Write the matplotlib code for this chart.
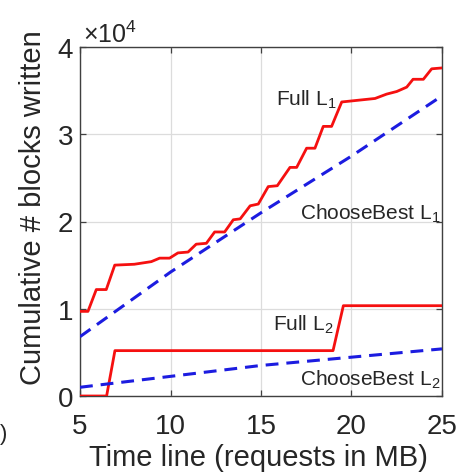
import matplotlib
matplotlib.use("Agg")
import matplotlib.pyplot as plt
from matplotlib.ticker import FuncFormatter

plt.rcParams['font.family'] = ['Liberation Sans', 'DejaVu Sans']
plt.rcParams['mathtext.fontset'] = 'custom'
plt.rcParams['mathtext.rm'] = 'Liberation Sans'
plt.rcParams['mathtext.it'] = 'Liberation Sans'

# Data (blocks written, time in MB)
full_l1_x = [5.0, 5.44, 5.9, 6.45, 6.92, 8.0, 8.94, 9.4, 9.95, 10.41, 10.97, 11.42,
             11.98, 12.44, 12.99, 13.47, 13.85, 14.4, 14.85, 15.4, 15.9, 16.6, 16.97,
             17.52, 17.98, 18.44, 18.9, 19.46, 19.92, 20.84, 21.3, 21.94, 22.5, 23.05,
             23.4, 23.97, 24.43, 25.0]
full_l1_y = [9700, 9700, 12200, 12200, 15000, 15100, 15400, 15800, 15800, 16400, 16500,
             17400, 17500, 18800, 18800, 20200, 20300, 21800, 22000, 24000, 24100, 26200,
             26200, 28400, 28400, 30900, 30900, 33700, 33800, 34000, 34100, 34600, 34900,
             35400, 36300, 36300, 37500, 37600]

cb_l1_x = [5, 10, 15, 20, 25]
cb_l1_y = [6800, 14200, 21000, 27500, 34400]

full_l2_x = [5.0, 6.47, 6.93, 18.98, 19.55, 25.0]
full_l2_y = [0, 0, 5200, 5200, 10350, 10350]

cb_l2_x = [5, 15, 25]
cb_l2_y = [1000, 3500, 5400]

x_ticks = [5, 10, 15, 20, 25]
y_ticks = [0, 10000, 20000, 30000, 40000]

W, H = 467, 477
fig = plt.figure(figsize=(W / 100, H / 100), dpi=100)
ax = fig.add_axes([80 / W, 1 - 397 / H, (442 - 80) / W, (397 - 48) / H])

red = '#f51010'
blue = '#1c1ce0'
txt = '#262626'

ax.plot(full_l1_x, full_l1_y, color=red, lw=2.0, zorder=3)
ax.plot(cb_l1_x, cb_l1_y, color=blue, lw=2.2, linestyle=(0, (4.2, 2.6)), zorder=3)
ax.plot(full_l2_x, full_l2_y, color=red, lw=2.0, zorder=3)
ax.plot(cb_l2_x, cb_l2_y, color=blue, lw=2.2, linestyle=(0, (4.2, 2.6)), zorder=3)

ax.set_xlim(5, 25)
ax.set_ylim(0, 40000)
ax.set_xticks(x_ticks)
ax.set_yticks(y_ticks)
ax.yaxis.set_major_formatter(FuncFormatter(lambda v, p: f"{v / 1e4:g}"))
ax.grid(True, color='#dcdcdc', lw=0.9)
ax.set_axisbelow(True)
ax.tick_params(direction='in', top=True, right=True, length=4, width=0.9,
               labelsize=20, colors='#404040', labelcolor=txt)
ax.tick_params(axis='x', pad=12)
ax.tick_params(axis='y', pad=5)
for s in ax.spines.values():
    s.set_color('#404040')
    s.set_linewidth(1.0)

ax.set_xlabel('Time line (requests in MB)', fontsize=21, color=txt)
ax.set_ylabel('Cumulative # blocks written', fontsize=21, color=txt)
ax.xaxis.set_label_coords((258 - 80) / (442 - 80), -(458 - 397) / (397 - 48))
ax.yaxis.set_label_coords(-(80 - 33) / (442 - 80), (397 - 208) / (397 - 48))
ax.xaxis.label.set_va('center')
ax.yaxis.label.set_va('center')

fig.text(83 / W, 1 - 43 / H, r'$\times10^{4}$', fontsize=18, color=txt,
         ha='left', va='baseline')

lab_fs = 15
ax.text(19.15, 34100, r'Full L$_1$', fontsize=lab_fs, color=txt, ha='right', va='center')
ax.text(24.95, 21000, r'ChooseBest L$_1$', fontsize=lab_fs, color=txt, ha='right', va='center')
ax.text(19.0, 8300, r'Full L$_2$', fontsize=lab_fs, color=txt, ha='right', va='center')
ax.text(24.95, 2000, r'ChooseBest L$_2$', fontsize=lab_fs, color=txt, ha='right', va='center')

fig.text(0.0, 1 - 440 / H, ')', fontsize=16, color=txt, ha='left', va='baseline')

fig.savefig('out.png', dpi=100, facecolor='white')
